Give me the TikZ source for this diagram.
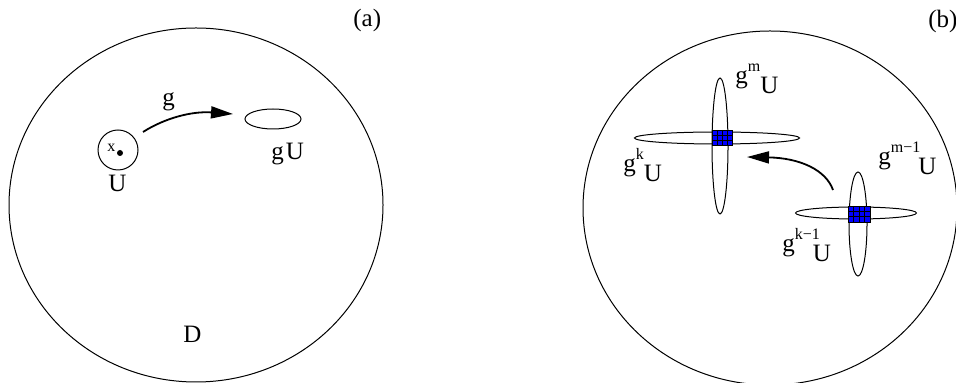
\documentclass[tikz,border=0pt]{standalone}
\usepackage{fontspec}
\setmainfont{Liberation Serif}
\usetikzlibrary{arrows.meta, positioning, shapes.geometric}
\definecolor{cellblue}{HTML}{0000FF}

% g to a power, with U set low beside it
\newcommand{\gpow}[2]{g\raisebox{6pt}{\fontsize{8}{9}\selectfont #1}\hspace{#2}\raisebox{-5pt}{U}}

\begin{document}
\begin{tikzpicture}[x=0.5pt, y=-0.5pt,
    orbit/.style n args={2}{ellipse, draw, line width=0.5pt, inner sep=0pt,
                            minimum width=#1, minimum height=#2},
    lbl/.style={font=\fontsize{12.5}{14}\selectfont, inner sep=0pt, anchor=base west},
    flow/.style={-{Triangle[length=11pt, width=6pt]}, line width=0.9pt},
    patch/.style={fill=cellblue, draw=black, line width=0.4pt}
  ]
    \useasboundingbox (0,0) rectangle (956,383);

    % panel (a)
    \node[orbit={187pt}{177pt}] (diskA) at (196,205) {};
    \node[circle, draw, line width=0.5pt, inner sep=0pt, minimum size=20pt] (nbhd) at (118,150) {};
    \fill (120,153) circle (1.5pt);
    \node[lbl, font=\fontsize{8}{9}\selectfont] (xpt) at (107,152) {x};
    \node[lbl] (nbhdU) at (108,192) {U};
    \node[orbit={28pt}{10pt}] (image) at (273,119) {};
    \node[lbl] (imageU) at (271,160) {g\hspace{1pt}U};
    \coordinate (gfrom) at (143,132);
    \coordinate (gto) at (233,114);
    \draw[flow] (gfrom) .. controls (165,118) and (192,111) .. (gto);
    \node[lbl] (gmap) at (162,106) {g};
    \node[lbl] (dom) at (183,343) {D};
    \node[lbl] (tagA) at (353,27) {(a)};

    % panel (b)
    \node[orbit={187pt}{177pt}] (diskB) at (770,208) {};
    \node[orbit={8pt}{68pt}] (gm) at (720,146) {};
    \node[orbit={82.5pt}{6pt}] (gk) at (717,138) {};
    \node[orbit={9pt}{52pt}] (gm1) at (858,224) {};
    \node[orbit={60.5pt}{6pt}] (gk1) at (856,213) {};

    \draw[patch] (712,130) rectangle (732,145);
    \foreach \i in {1,2,3} \draw[line width=0.4pt] (712+5*\i,130) -- (712+5*\i,145);
    \foreach \j in {1,2} \draw[line width=0.4pt] (712,130+5*\j) -- (732,130+5*\j);
    \draw[patch] (848,206) rectangle (870,222);
    \foreach \i in {1,2,3} \draw[line width=0.4pt] (848+5.5*\i,206) -- (848+5.5*\i,222);
    \foreach \j in {1,2} \draw[line width=0.4pt] (848,206+5.33*\j) -- (870,206+5.33*\j);

    \coordinate (back) at (833,190);
    \coordinate (ahead) at (747,157);
    \draw[flow] (back) .. controls (826,170) and (800,158) .. (ahead);

    \node[lbl] (gmU) at (735,84) {\gpow{m}{0pt}};
    \node[lbl] (gkU) at (623,172) {\gpow{k}{0pt}};
    \node[lbl] (gk1U) at (782,252) {\gpow{k−1}{-3.5pt}};
    \node[lbl] (gm1U) at (878,165) {\gpow{m−1}{-1pt}};
    \node[lbl] (tagB) at (928,28) {(b)};
\end{tikzpicture}
\end{document}
